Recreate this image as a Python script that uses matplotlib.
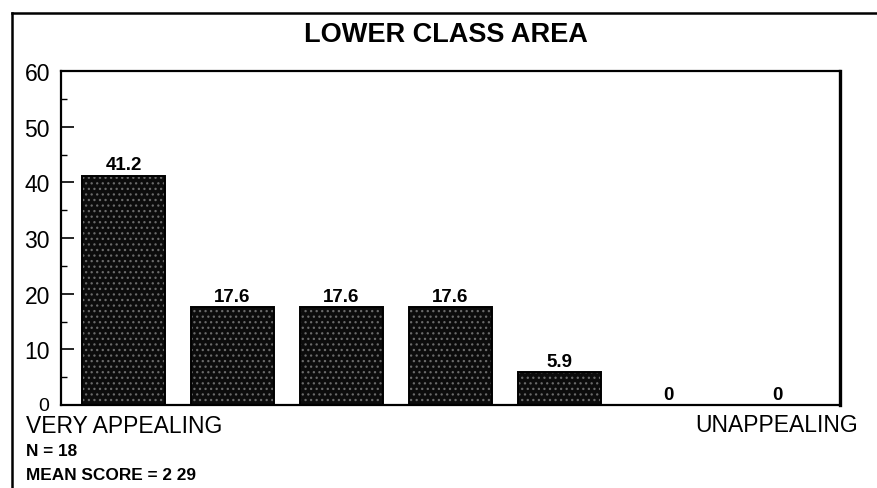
import matplotlib
matplotlib.use("Agg")
import matplotlib.pyplot as plt
from matplotlib.lines import Line2D

plt.rcParams["font.family"] = ["Liberation Sans", "DejaVu Sans"]
plt.rcParams["hatch.linewidth"] = 0.9

# Ratings from "very appealing" (1) to "unappealing" (7), percent of respondents
categories = ["1", "2", "3", "4", "5", "6", "7"]
percent = [41.2, 17.6, 17.6, 17.6, 5.9, 0, 0]
value_labels = ["41.2", "17.6", "17.6", "17.6", "5.9", "0", "0"]
y_ticks = [10, 20, 30, 40, 50, 60]
title = "LOWER CLASS AREA"
left_anchor = "VERY APPEALING"
right_anchor = "UNAPPEALING"
sample_note = "N = 18"
mean_note = "MEAN SCORE = 2 29"

W, H = 878, 489
fig = plt.figure(figsize=(W / 100, H / 100), dpi=100)
fig.patch.set_facecolor("white")

def fx(px):
    return px / W

def fy(py):
    return 1 - py / H

ax = fig.add_axes([fx(61), fy(406), fx(840) - fx(61), fy(72) - fy(406)])

x = list(range(len(categories)))
# stippled fill
ax.bar(x, percent, width=0.76, color="#0c0c0c", edgecolor="#6a6a6a",
       linewidth=0, hatch="...", zorder=2)
# solid outline
ax.bar(x, percent, width=0.76, fill=False, edgecolor="black",
       linewidth=1.4, zorder=3)

for xi, v, lab in zip(x, percent, value_labels):
    ax.text(xi, v + 0.4, lab, ha="center", va="bottom",
            fontsize=13.5, fontweight="bold", color="black")

ax.set_xlim(-0.573, 6.573)
ax.set_ylim(0, 60)
ax.set_xticks([])
ax.set_yticks(y_ticks)
ax.set_yticklabels([str(t) for t in y_ticks])
ax.set_yticks([5, 15, 25, 35, 45, 55], minor=True)
ax.tick_params(axis="y", which="major", direction="in", length=9, width=1.2,
               pad=8, labelsize=16.5)
ax.tick_params(axis="y", which="minor", direction="in", length=4, width=1.0)

for side in ["left", "bottom", "top"]:
    ax.spines[side].set_linewidth(1.6)
ax.spines["right"].set_linewidth(2.4)

# zero label of the value axis sits low, under the corner
fig.text(fx(44), fy(407), "0", ha="center", va="center", fontsize=14)

fig.text(fx(446), fy(35), title, ha="center", va="center",
         fontsize=19.5, fontweight="bold")

fig.text(fx(26), fy(433), left_anchor, ha="left", va="baseline", fontsize=16.5)
fig.text(fx(858), fy(432), right_anchor, ha="right", va="baseline", fontsize=16.5)
fig.text(fx(26), fy(456), sample_note, ha="left", va="baseline",
         fontsize=12.4, fontweight="bold")
fig.text(fx(26), fy(480), mean_note, ha="left", va="baseline",
         fontsize=12.4, fontweight="bold")

# outer frame (open to the right and bottom)
fig.add_artist(Line2D([fx(12), 1.0], [fy(14), fy(14)], color="black", lw=1.8))
fig.add_artist(Line2D([fx(12), fx(12)], [fy(14), 0.0], color="black", lw=1.8))

fig.savefig("out.png", dpi=100)
